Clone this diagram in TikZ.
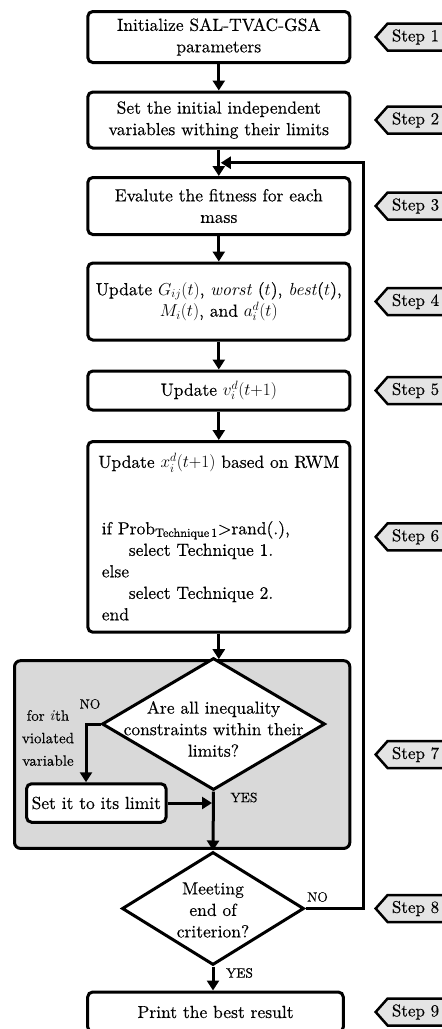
\documentclass[tikz,border=0pt]{standalone}
\usepackage{fontspec}
\setmainfont{lmroman10-regular}[Extension=.otf, ItalicFont=lmroman10-italic, BoldFont=lmroman10-bold, UprightFeatures={FakeBold=0.3}]
\usepackage{xcolor}
\usepackage{tikz}
\usetikzlibrary{arrows.meta,positioning,shapes.geometric,shapes.symbols,calc}
\definecolor{tagfill}{HTML}{E4E4E4}
\definecolor{panelgray}{HTML}{D9D9D9}
\tikzset{
  procbox/.style={rounded corners=5pt, draw, line width=3pt, fill=white, align=center, minimum width=262pt, inner sep=3pt, font=\fontsize{17.5}{21.5}\selectfont},
  decision/.style={diamond, draw, line width=3pt, fill=white, inner sep=0pt},
  qtext/.style={align=center, inner sep=0pt, font=\fontsize{17.5}{21.5}\selectfont},
  groupbox/.style={rounded corners=6pt, draw, line width=3pt, fill=panelgray},
  stepbox/.style={signal, signal to=west, signal pointer angle=97, draw, line width=2.5pt, fill=tagfill, minimum width=68.5pt, minimum height=27pt, inner xsep=2pt, inner ysep=0pt, text width=48pt, align=left, anchor=west, font=\fontsize{17}{20}\selectfont},
  yesno/.style={inner sep=0pt, font=\fontsize{13.5}{15}\selectfont},
  arrow/.style={-{Triangle[width=12pt,length=10pt]}, line width=3pt}
}

\begin{document}
\begin{tikzpicture}[x=1pt, y=-1pt]
  \useasboundingbox (0,0) rectangle (442,1029);
  \clip (0,0) rectangle (442,1029);

  % main column
  \node[procbox, minimum height=51pt] (b1) at (218.8,37) {Initialize SAL-TVAC-GSA\\parameters};
  \node[procbox, below=26.5pt of b1, minimum height=56pt] (b2) {Set the initial independent\\variables withing their limits};
  \node[procbox, below=26.5pt of b2, minimum height=57pt] (b3) {Evalute the fitness for each\\mass};
  \node[procbox, below=25.5pt of b3, minimum height=77pt] (b4) {Update $G_{ij}(t)$, \textit{worst}\ ($t$), \textit{best}($t$),\\$M_i(t)$, and $a_i^d(t)$};
  \node[procbox, below=28pt of b4, minimum height=39pt] (b5) {Update $v_i^d(t{+}1)$};
  \node[procbox, below=28.5pt of b5, minimum height=190.7pt, text width=234pt, align=left, inner xsep=14pt] (b6) {%
    \makebox[234pt]{Update $x_i^d(t{+}1)$ based on RWM}\\[45pt]
    if Prob\textsubscript{Technique\,1}>rand(.),\\
    \hspace*{27pt}select Technique 1.\\
    else\\
    \hspace*{27pt}select Technique 2.\\
    end};

  % constraint handling panel
  \node[groupbox, below=25.5pt of b6.south east, anchor=north east, minimum width=335.3pt, minimum height=187.7pt] (grp) {};
  \node[decision, minimum width=223pt, minimum height=132pt] (d1) at (213.5,724) {};
  \node[qtext] (d1txt) at (213.5,729) {Are all inequality\\constraints within their\\limits?};
  \node[procbox, minimum width=139.5pt, minimum height=38.5pt] (setb) at (96.3,803) {Set it to its limit};
  \node[yesno] (no1) at (90,704) {NO};
  \node[align=center, inner sep=0pt, font=\fontsize{15}{22.5}\selectfont] (viol) at (48,738) {for \textit{i}th\\violated\\variable};
  \node[yesno] (yes1) at (244,797.5) {YES};

  \node[decision, minimum width=182pt, minimum height=113pt] (d2) at (213,908.5) {};
  \node[qtext] (d2txt) at (213,910) {Meeting\\end of\\criterion?};
  \node[yesno] (no2) at (317.5,897) {NO};
  \node[yesno] (yes2) at (239.5,973) {YES};

  \node[procbox, minimum width=255.6pt, minimum height=40pt] (b9) at (215.5,1012) {Print the best result};

  % helper points for the loop back
  \coordinate (join) at ($(b2.south)!0.5!(b3.north)$);
  \coordinate (loopx) at ([xshift=12.5pt]b2.east);
  \coordinate (nobend) at ([xshift=-14.5pt]d1.west);

  \draw[arrow] (b1.south) -- (b2.north);
  \draw[arrow] (b2.south) -- (b3.north);
  \draw[arrow] (b3.south) -- (b4.north);
  \draw[arrow] (b4.south) -- (b5.north);
  \draw[arrow] (b5.south) -- (b6.north);
  \draw[arrow] (b6.south) -- (b6.south |- grp.north);
  \draw[arrow] (d1.west) -- (nobend) -- (nobend |- setb.north);
  \draw[arrow, shorten >=1.5pt] (setb.east) -- (setb.east -| d1.south);
  \draw[arrow] (d1.south) -- (d2.north);
  \draw[arrow] (d2.south) -- (d2.south |- b9.north);
  \draw[arrow, shorten >=2pt] (d2.east) -| (loopx |- join) -- (join);

  % step tags
  \coordinate (tagx) at (374,0);
  \foreach \n/\tgt in {1/b1,2/b2,3/b3,4/b4,5/b5,6/b6,7/grp,8/d2,9/b9}
    \node[stepbox] (step\n) at (tagx |- \tgt) {Step \n};
\end{tikzpicture}
\end{document}
